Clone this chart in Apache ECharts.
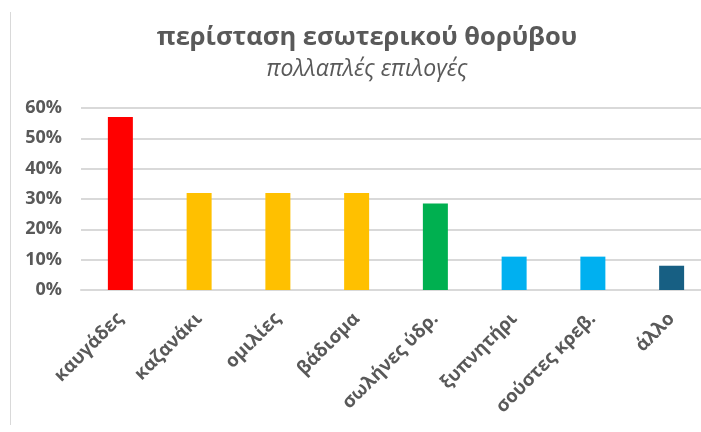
<!DOCTYPE html>
<html>
<head>
<meta charset="utf-8">
<script src="https://cdn.jsdelivr.net/npm/echarts@6/dist/echarts.min.js"></script>
<style>
    html, body {margin: 0; padding: 0; background: #fff;}
    #chart {width: 701px; height: 432px;}
</style>
</head>
<body>
<div id="chart"></div>
<script>
var categories = ['καυγάδες', 'καζανάκι', 'ομιλίες', 'βάδισμα', 'σωλήνες ύδρ.', 'ξυπνητήρι', 'σούστες κρεβ.', 'άλλο'];
var values = [57, 32, 32, 32, 28.5, 11, 11, 8];
var barColors = ['#FF0000', '#FFC000', '#FFC000', '#FFC000', '#00B050', '#00B0F0', '#00B0F0', '#175F83'];
var yTicks = [0, 10, 20, 30, 40, 50, 60];

var textGray = '#595959';
var fontName = '"Open Sans", "Noto Sans", sans-serif';

var chart = echarts.init(document.getElementById('chart'));

var option = {
    animation: false,
    backgroundColor: '#fff',
    graphic: [
        // left frame line of the chart area
        {
            type: 'line',
            shape: {x1: 10.5, y1: 12, x2: 10.5, y2: 425},
            style: {stroke: '#d9d9d9', lineWidth: 1}
        },
        {
            type: 'text',
            x: 367,
            y: 38,
            style: {
                text: 'περίσταση εσωτερικού θορύβου',
                font: 'bold 25.5px ' + fontName,
                fill: textGray,
                align: 'center',
                verticalAlign: 'middle'
            }
        },
        {
            type: 'text',
            x: 367,
            y: 69,
            style: {
                text: 'πολλαπλές επιλογές',
                font: 'italic 23px ' + fontName,
                fill: textGray,
                align: 'center',
                verticalAlign: 'middle'
            }
        }
    ],
    grid: {
        left: 81,
        width: 630,
        top: 108,
        bottom: 142,
        containLabel: false,
        outerBoundsMode: 'none'
    },
    xAxis: {
        type: 'category',
        data: categories,
        axisLine: {show: true, lineStyle: {color: '#d9d9d9', width: 2}},
        axisTick: {show: false},
        axisLabel: {
            rotate: 45,
            margin: 26,
            interval: 0,
            color: textGray,
            fontWeight: 'bold',
            fontSize: 18.5,
            fontFamily: fontName
        }
    },
    yAxis: {
        type: 'value',
        min: yTicks[0],
        max: yTicks[yTicks.length - 1],
        interval: 10,
        axisLine: {show: false},
        axisTick: {show: false},
        splitLine: {lineStyle: {color: '#d9d9d9', width: 2}},
        axisLabel: {
            margin: 19,
            color: textGray,
            fontWeight: 'bold',
            fontSize: 18,
            fontFamily: fontName,
            formatter: function (v) { return v + '%'; }
        }
    },
    series: [
        {
            type: 'bar',
            barWidth: 25,
            data: values.map(function (v, i) {
                return {
                    value: v,
                    itemStyle: {color: barColors[i]}
                };
            })
        }
    ]
};

chart.setOption(option);
</script>
</body>
</html>
